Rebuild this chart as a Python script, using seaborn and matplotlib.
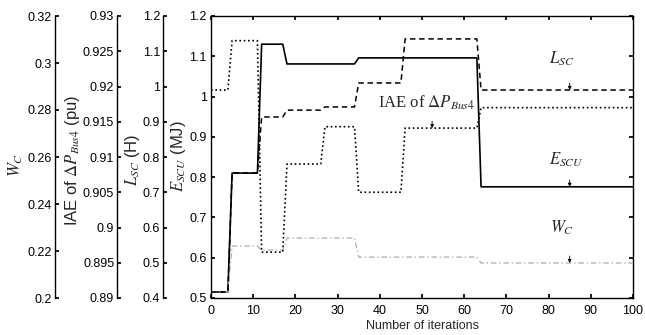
import matplotlib
matplotlib.use("Agg")
import matplotlib.pyplot as plt
import seaborn as sns
import pandas as pd
from matplotlib.ticker import FixedLocator, FormatStrFormatter

# Optimisation history: each quantity holds its value between iterations,
# so the series are listed at the iterations where a change happens.
iterations = [0, 4, 5, 11, 12, 17, 18, 26, 27, 34, 35, 45, 46, 63, 64, 100]
e_scu = [0.515, 0.515, 0.810, 0.810, 1.130, 1.130, 1.081, 1.081,
         1.081, 1.081, 1.096, 1.096, 1.096, 1.096, 0.776, 0.776]
l_sc = [0.417, 0.417, 0.755, 0.755, 0.9135, 0.9135, 0.933, 0.933,
        0.942, 0.942, 1.010, 1.010, 1.135, 1.135, 0.990, 0.990]
iae_bus4 = [0.9195, 0.9195, 0.9265, 0.9265, 0.8965, 0.8965, 0.9090, 0.9090,
            0.9143, 0.9143, 0.9050, 0.9050, 0.9141, 0.9141, 0.9170, 0.9170]
w_c = [0.2026, 0.2026, 0.2221, 0.2221, 0.2204, 0.2204, 0.2255, 0.2255,
       0.2255, 0.2255, 0.2174, 0.2174, 0.2174, 0.2174, 0.2149, 0.2149]

x_ticks = [0, 10, 20, 30, 40, 50, 60, 70, 80, 90, 100]
e_ticks = [0.5, 0.6, 0.7, 0.8, 0.9, 1.0, 1.1, 1.2]
l_ticks = [0.4, 0.5, 0.6, 0.7, 0.8, 0.9, 1.0, 1.1, 1.2]
iae_ticks = [0.89, 0.895, 0.9, 0.905, 0.91, 0.915, 0.92, 0.925, 0.93]
w_ticks = [0.2, 0.22, 0.24, 0.26, 0.28, 0.3, 0.32]

df = pd.DataFrame({"it": iterations, "E": e_scu, "L": l_sc,
                   "IAE": iae_bus4, "W": w_c})

sns.set_theme(style="ticks")
plt.rcParams.update({
    "font.family": ["Liberation Sans", "DejaVu Sans"],
    "mathtext.fontset": "stix",
    "axes.edgecolor": "black",
    "axes.linewidth": 1.0,
    "xtick.color": "black",
    "ytick.color": "black",
    "xtick.direction": "in",
    "ytick.direction": "in",
    "xtick.major.size": 3.2,
    "ytick.major.size": 3.2,
    "font.size": 9,
})

W, H = 645, 335
fig = plt.figure(figsize=(W / 100, H / 100), dpi=100)
L, R, T, B = 211, 633, 16, 298
ax = fig.add_axes([L / W, 1 - B / H, (R - L) / W, (B - T) / H])

ax_w = ax.twinx()
ax_iae = ax.twinx()
ax_l = ax.twinx()


def left_axis(a, offset_px):
    for s in ("top", "right", "bottom"):
        a.spines[s].set_visible(False)
    a.spines["left"].set_visible(True)
    a.spines["left"].set_position(("outward", offset_px * 0.72))
    a.yaxis.tick_left()
    a.yaxis.set_label_position("left")


left_axis(ax_w, L - 55)
left_axis(ax_iae, L - 117)
left_axis(ax_l, L - 163)

# series
sns.lineplot(data=df, x="it", y="W", ax=ax_w, estimator=None, sort=False,
             color="#b4b4b4", lw=1.0, linestyle=(0, (4, 2, 1, 2)), legend=False)
sns.lineplot(data=df, x="it", y="IAE", ax=ax_iae, estimator=None, sort=False,
             color="black", lw=1.2, linestyle=(0, (1, 1.6)), legend=False)
sns.lineplot(data=df, x="it", y="L", ax=ax_l, estimator=None, sort=False,
             color="black", lw=1.1, linestyle=(0, (3.6, 2.4)), legend=False)
sns.lineplot(data=df, x="it", y="E", ax=ax, estimator=None, sort=False,
             color="black", lw=1.2, legend=False)

# scales
ax.set_xlim(0, 100)
ax.set_ylim(0.5, 1.2)
ax_l.set_ylim(0.4, 1.2)
ax_iae.set_ylim(0.89, 0.93)
ax_w.set_ylim(0.2, 0.32)

ax.xaxis.set_major_locator(FixedLocator(x_ticks))
ax.yaxis.set_major_locator(FixedLocator(e_ticks))
ax_l.yaxis.set_major_locator(FixedLocator(l_ticks))
ax_iae.yaxis.set_major_locator(FixedLocator(iae_ticks))
ax_w.yaxis.set_major_locator(FixedLocator(w_ticks))
for a in (ax, ax_l, ax_iae, ax_w):
    a.yaxis.set_major_formatter(FormatStrFormatter("%g"))
ax.xaxis.set_major_formatter(FormatStrFormatter("%g"))

ax.tick_params(axis="both", which="major", direction="in", top=True,
               right=True, left=True, bottom=True, labelsize=9, pad=3)
ax.tick_params(axis="x", pad=5)
for a in (ax_l, ax_iae, ax_w):
    a.tick_params(axis="y", direction="in", left=True, right=False,
                  labelleft=True, labelright=False, labelsize=9, pad=2)

ax.set_xlabel("Number of iterations", fontsize=9, labelpad=2)

label_kw = dict(fontsize=12, va="center", math_fontfamily="stix")
ax.set_ylabel("$E_{SCU}$ (MJ)", **label_kw)
ax_l.set_ylabel("$L_{SC}$ (H)", **label_kw)
ax_iae.set_ylabel(r"IAE of $\Delta P_{Bus4}$ (pu)", **label_kw)
ax_w.set_ylabel("$W_C$", **label_kw)


def lab_x(px):
    return (px - L) / (R - L)


def lab_y(py):
    return (B - py) / (B - T)


ax.yaxis.set_label_coords(lab_x(179), lab_y(156))
ax_l.yaxis.set_label_coords(lab_x(132), lab_y(160))
ax_iae.yaxis.set_label_coords(lab_x(72), lab_y(160))
ax_w.yaxis.set_label_coords(lab_x(16), lab_y(165))

# in-plot series names
txt_kw = dict(fontsize=12, family="Liberation Serif", math_fontfamily="stix",
              ha="center", va="center")
ax.text(83.2, 1.093, "$L_{SC}$", **txt_kw)
ax.text(39.6, 0.984, r"IAE of $\Delta P_{Bus4}$",
        **{**txt_kw, "ha": "left"})
ax.text(84.1, 0.843, "$E_{SCU}$", **txt_kw)
ax.text(83.2, 0.674, "$W_C$", **txt_kw)

# small pointers onto the curves
arrow = dict(arrowstyle="-|>", lw=0.6, color="black", mutation_scale=5,
             shrinkA=0, shrinkB=0)
ax_l.annotate("", xy=(85, 0.990), xytext=(0, 5), textcoords="offset points",
              arrowprops=arrow)
ax_iae.annotate("", xy=(52.4, 0.9141), xytext=(0, 5),
                textcoords="offset points", arrowprops=arrow)
ax.annotate("", xy=(85, 0.776), xytext=(0, 5), textcoords="offset points",
            arrowprops=arrow)
ax_w.annotate("", xy=(85, 0.2149), xytext=(0, 5), textcoords="offset points",
              arrowprops=arrow)

fig.savefig("out.png", dpi=100)
